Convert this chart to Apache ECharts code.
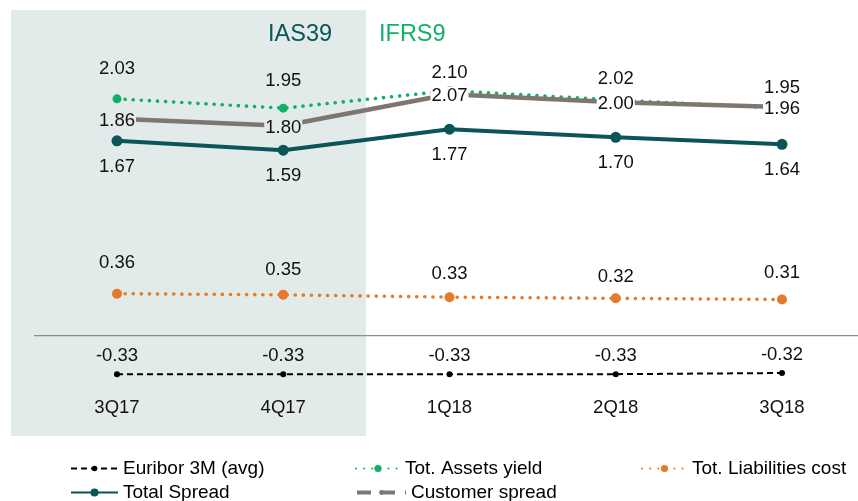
<!DOCTYPE html>
<html><head><meta charset="utf-8">
<script src="https://cdn.jsdelivr.net/npm/echarts@6/dist/echarts.min.js"></script>
<style>html,body{margin:0;padding:0;background:#fff}#c{width:858px;height:501px}</style>
</head><body><div id="c"></div>
<script>
// ---- data ----
const categories = ['3Q17', '4Q17', '1Q18', '2Q18', '3Q18'];
const euribor = [-0.33, -0.33, -0.33, -0.33, -0.32];
const assetsYield = [2.03, 1.95, 2.10, 2.02, 1.95];
const liabilitiesCost = [0.36, 0.35, 0.33, 0.32, 0.31];
const totalSpread = [1.67, 1.59, 1.77, 1.70, 1.64];
const customerSpread = [1.86, 1.80, 2.07, 2.00, 1.96];
const seriesNames = ['Euribor 3M (avg)', 'Tot. Assets yield', 'Tot. Liabilities cost', 'Total Spread', 'Customer spread'];
const regimeLabels = ['IAS39', 'IFRS9'];

// ---- style ----
const FONT = 'Liberation Sans, Arial, sans-serif';
const C_TEAL = '#0B5457', C_GREEN = '#10B06A', C_ORANGE = '#E37A2C', C_GREY = '#7F776F', C_BLACK = '#000000';
const SHADE = '#E2EBEA';
const lblBase = { show: true, fontFamily: FONT, fontSize: 18.5, color: '#111', formatter: p => p.value.toFixed(2) };

const assetsDist = [16, 13, 4, 7, 6];
const liabDist = [16, 10, 9, 7, 12];
const custBg = [SHADE, SHADE, '#fff', '#fff', '#fff'];
const legendText = { fontFamily: FONT, fontSize: 19, color: '#000' };

const chart = echarts.init(document.getElementById('c'), null, { renderer: 'canvas' });
const option = {
  animation: false,
  backgroundColor: '#fff',
  title: [
    { text: regimeLabels[0], left: 268, top: 23, padding: 0, textStyle: { fontFamily: FONT, fontSize: 23.5, fontWeight: 'normal', color: C_TEAL } },
    { text: regimeLabels[1], left: 379, top: 23, padding: 0, textStyle: { fontFamily: FONT, fontSize: 23.5, fontWeight: 'normal', color: C_GREEN } }
  ],
  legend: [
    { data: [seriesNames[0]], left: 70, top: 459, padding: 0, itemWidth: 47, itemHeight: 7, itemGap: 5, textStyle: legendText },
    { data: [seriesNames[1]], left: 355, top: 459, padding: 0, itemWidth: 44, itemHeight: 9, textStyle: legendText },
    { data: [seriesNames[2]], left: 641, top: 459, padding: 0, itemWidth: 45, itemHeight: 9, textStyle: legendText },
    { data: [seriesNames[3]], left: 70, top: 483, padding: 0, itemWidth: 47, itemHeight: 10, textStyle: legendText },
    { data: [{ name: seriesNames[4], lineStyle: { type: [14, 10], width: 4, color: C_GREY } }], left: 355, top: 483, padding: 0, itemWidth: 49, itemHeight: 6, textStyle: legendText }
  ],
  grid: { left: 117, right: 76, top: 44, height: 350 },
  xAxis: {
    type: 'category', data: categories, boundaryGap: false,
    axisLine: { show: false },
    axisTick: { show: false },
    axisLabel: { margin: 4, fontFamily: FONT, fontSize: 18.5, color: '#111' }
  },
  yAxis: { type: 'value', min: -0.5, max: 2.5, interval: 0.5, show: false, splitLine: { show: false } },
  series: [
    {
      name: seriesNames[0], type: 'line', z: 3, data: euribor,
      symbol: 'circle', symbolSize: 6, itemStyle: { color: C_BLACK },
      lineStyle: { color: C_BLACK, width: 2, type: [6, 4] },
      label: Object.assign({}, lblBase, { position: 'top', distance: 6 })
    },
    {
      name: seriesNames[1], type: 'line', z: 3,
      data: assetsYield.map((v, i) => ({ value: v, label: { distance: assetsDist[i] } })),
      symbol: 'circle', symbolSize: 9, itemStyle: { color: C_GREEN },
      lineStyle: { color: C_GREEN, width: 3.6, type: [0.1, 8], cap: 'round' },
      label: Object.assign({}, lblBase, { position: 'top' })
    },
    {
      name: seriesNames[2], type: 'line', z: 3,
      data: liabilitiesCost.map((v, i) => ({ value: v, label: { distance: liabDist[i] } })),
      symbol: 'circle', symbolSize: 10, itemStyle: { color: C_ORANGE },
      lineStyle: { color: C_ORANGE, width: 3.6, type: [0.1, 8], cap: 'round' },
      label: Object.assign({}, lblBase, { position: 'top' })
    },
    {
      name: seriesNames[3], type: 'line', z: 4, data: totalSpread,
      symbol: 'circle', symbolSize: 11, itemStyle: { color: C_TEAL },
      lineStyle: { color: C_TEAL, width: 4 },
      label: Object.assign({}, lblBase, { position: 'bottom', distance: 11 })
    },
    {
      name: seriesNames[4], type: 'line', z: 5,
      data: customerSpread.map((v, i) => ({ value: v, label: { backgroundColor: custBg[i] } })),
      symbol: 'circle', symbolSize: 0.01, showSymbol: true, itemStyle: { color: C_GREY },
      lineStyle: { color: C_GREY, width: 4.5 },
      label: Object.assign({}, lblBase, { position: 'inside', offset: [0, 2], padding: [0, 1] })
    }
  ]
};
chart.setOption(option);

// background band and zero line, placed through the chart's own scales
const y0 = chart.convertToPixel({ yAxisIndex: 0 }, 0);
chart.setOption({
  graphic: [
    { type: 'rect', z: -10, silent: true, shape: { x: 11, y: 10, width: 355, height: 426 }, style: { fill: SHADE } },
    { type: 'line', z: 1, silent: true, shape: { x1: 34, y1: y0, x2: 858, y2: y0 }, style: { stroke: '#8c8c8c', lineWidth: 1.2 } }
  ]
});
</script></body></html>
